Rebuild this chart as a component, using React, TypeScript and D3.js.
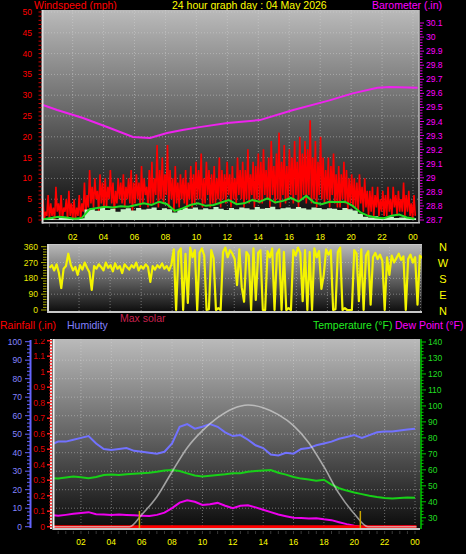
import React from 'react';
import * as d3 from 'd3';

// ---------- axis / label data ----------
const hourTicks = [2, 4, 6, 8, 10, 12, 14, 16, 18, 20, 22, 24];
const hourLabels = ['02', '04', '06', '08', '10', '12', '14', '16', '18', '20', '22', '00'];
const windTicks = [0, 5, 10, 15, 20, 25, 30, 35, 40, 45, 50];
const baroTicks = [28.7, 28.8, 28.9, 29.0, 29.1, 29.2, 29.3, 29.4, 29.5, 29.6, 29.7, 29.8, 29.9, 30.0, 30.1];
const dirTicks = [0, 90, 180, 270, 360];
const compassLabels = ['N', 'E', 'S', 'W', 'N']; // for 0, 90, 180, 270, 360
const humTicks = [0, 10, 20, 30, 40, 50, 60, 70, 80, 90, 100];
const rainTicks = [0, 0.1, 0.2, 0.3, 0.4, 0.5, 0.6, 0.7, 0.8, 0.9, 1.0, 1.1, 1.2];
const tempTicks = [30, 40, 50, 60, 70, 80, 90, 100, 110, 120, 130, 140];

// ---------- wind (10-minute slots: peak then low) ----------
const gustPeaks = [
  5, 2, 6, 4, 3, 8,
  4, 6, 3, 5, 7, 4,
  5, 3, 6, 4, 9, 6,
  12, 8, 10, 7, 11, 9,
  10, 8, 12, 9, 7, 10,
  9, 11, 8, 10, 12, 9,
  11, 9, 13, 10, 8, 12,
  14, 10, 18, 12, 15, 11,
  18, 12, 10, 13, 9, 11,
  10, 12, 9, 13, 11, 14,
  12, 16, 10, 14, 12, 11,
  13, 10, 15, 12, 11, 14,
  11, 13, 10, 15, 12, 14,
  12, 17, 11, 14, 13, 16,
  14, 17, 12, 15, 19, 13,
  16, 21, 14, 18, 13, 17,
  15, 19, 14, 20, 16, 19,
  17, 24, 15, 19, 14, 20,
  15, 12, 15, 13, 16, 11,
  13, 11, 14, 12, 10, 11,
  10, 9, 11, 8, 10, 7,
  7, 8, 6, 8, 5, 7,
  6, 8, 5, 8, 6, 7,
  5, 9, 6, 7, 4, 6,
];
const gustLows = [
  0, 1, 0, 1, 0, 2,
  1, 0, 2, 0, 1, 0,
  0, 1, 0, 2, 1, 3,
  4, 3, 5, 2, 4, 3,
  3, 5, 4, 2, 4, 5,
  4, 3, 5, 4, 2, 4,
  5, 3, 4, 6, 3, 4,
  4, 6, 3, 5, 4, 6,
  3, 5, 2, 4, 3, 5,
  4, 2, 5, 3, 4, 5,
  5, 3, 4, 6, 3, 4,
  4, 5, 3, 5, 4, 6,
  3, 5, 4, 6, 5, 3,
  5, 4, 6, 3, 5, 4,
  4, 6, 5, 3, 6, 4,
  5, 3, 6, 4, 5, 6,
  4, 6, 3, 5, 6, 4,
  6, 4, 5, 3, 6, 5,
  4, 5, 3, 6, 4, 3,
  3, 5, 4, 2, 4, 3,
  3, 2, 4, 2, 3, 1,
  2, 1, 3, 1, 2, 1,
  1, 2, 1, 3, 1, 2,
  2, 1, 2, 1, 0, 1,
];
// 20-minute wind speed
const windSpeed = [
  0.3, 0.5, 0.2, 0.8, 0.5, 0.3, 0.2, 0.4,
  2.5, 2.8, 2.2, 2.9, 2.4, 2.7, 2.0, 2.6, 2.8, 2.3, 2.9, 2.5, 2.7, 3.0, 2.4, 2.8,
  2.6, 1.8, 2.4, 2.9, 2.7, 3.0, 2.5, 2.8, 2.6, 3.1, 2.7, 2.4, 2.9, 2.6, 3.0, 2.8,
  2.5, 3.1, 2.7, 2.9, 3.2, 2.6, 2.8, 3.0, 2.7, 3.1, 2.8, 2.5, 3.0, 2.9, 2.6, 2.8,
  2.7, 2.4, 2.9, 2.6, 2.3, 1.5,
  0.8, 0.6, 0.9, 0.5, 0.7, 0.8, 0.5, 0.6, 0.7, 0.4,
];
// 30-minute average wind
const windAvg = [
  0.2, 0.5, 0.8, 0.6, 0.3, 0.5, 2.6, 2.9, 3.2, 3.0, 3.3, 3.2,
  3.6, 4.0, 3.6, 4.4, 3.8, 2.2, 2.8, 3.6, 4.0, 3.4, 3.6, 4.2,
  4.8, 3.8, 4.0, 4.8, 4.4, 5.2, 4.2, 4.6, 5.3, 4.4, 5.8, 4.2,
  3.8, 4.4, 4.3, 4.4, 3.4, 1.8, 1.0, 0.6, 0.4, 1.0, 1.3, 0.6, 0.3,
];
// barometer
const baroHours = [0.08, 1.0, 2.67, 4.4, 5.9, 7.0, 8.1, 9.1, 10.2, 12.0, 14.1, 16.2, 18.6, 20.1, 21.7, 22.5, 24.3];
const baroValues = [29.517, 29.482, 29.425, 29.354, 29.29, 29.283, 29.318, 29.34, 29.36, 29.39, 29.41, 29.48, 29.55, 29.6, 29.64, 29.645, 29.64];

// ---------- wind direction (9-minute samples) ----------
const windDir = [
  240, 255, 225, 260, 210, 125, 235, 250, 320, 260, 225, 245, 200, 255, 230, 270, 240, 215, 114, 250,
  235, 260, 245, 225, 270, 240, 255, 220, 265, 235, 250, 210, 260, 245, 230, 255, 240, 270, 225, 250,
  235, 260, 245, 160, 250, 230, 255, 240, 265, 235, 250, 225, 260, 345, 0, 330, 350, 0, 320, 40,
  355, 300, 340, 0, 325, 350, 310, 0, 5, 340, 295, 0, 10, 0, 330, 355, 300, 340, 320, 290,
  142, 345, 130, 47, 330, 310, 0, 350, 57, 325, 340, 0, 0, 335, 300, 350, 0, 320, 345, 0,
  330, 0, 10, 0, 340, 310, 355, 325, 50, 340, 0, 330, 0, 350, 300, 335, 120, 200, 345, 315,
  340, 0, 5, 330, 355, 0, 10, 0, 0, 0, 340, 320, 50, 345, 0, 310, 335, 30, 300, 325,
  290, 315, 280, 0, 300, 200, 310, 270, 295, 320, 285, 305, 0, 290, 315, 270, 300, 30, 310, 295,
];

// ---------- bottom panel (30-minute samples starting 00:12) ----------
const humidity = [
  45, 46, 46, 47, 48, 49, 45, 42, 41.5, 42, 42.5, 41, 40.5, 40, 39.5, 40.5, 45,
  54, 55.5, 53, 54, 55.5, 54, 51, 49, 49.5, 47, 44, 42.5, 39, 38.5, 40, 39.5,
  42, 42.5, 44, 45, 46, 47.5, 48.5, 49.5, 48, 49.5, 51, 51.5, 51.5, 52, 52.5, 53,
];
const temperature = [
  54.7, 54.5, 55.2, 55.8, 55.3, 54.8, 55.5, 56.8, 57, 56.8, 57.2, 57.5, 57.8, 58.2, 58.8, 59.6, 59.9,
  59.2, 57.8, 56.5, 55.8, 56.3, 56.8, 57.2, 57.8, 57.8, 58.8, 59.2, 59.5, 59.9, 58.2, 57, 55.5,
  54.5, 54, 53.2, 53.8, 50.8, 48.5, 47, 45.8, 44.8, 43.8, 43, 42.4, 42, 42.3, 42.6, 42.5,
];
const dewPoint = [
  31.5, 31.2, 31.8, 32.5, 33, 33.5, 32.2, 32, 31.8, 32, 31.7, 31.5, 31.3, 31.1, 31.8, 33.2, 36,
  39.5, 41, 40, 38, 38.5, 39.3, 37.5, 36, 37.5, 37.8, 36.5, 35, 33.5, 32, 31, 30,
  29.8, 29.5, 29.7, 29, 28.5, 27.2, 26, 25, 24.4, 24.2, 24.2, 24.3, 24.3, 24.4, 24.5, 24.4,
];
const rainfall = [0, 0, 0, 0, 0, 0, 0, 0, 0, 0, 0, 0, 0, 0, 0, 0, 0, 0, 0, 0, 0, 0, 0, 0, 0];
const solarHours = [0.2, 5.2, 6, 7, 8, 9, 10, 11, 12, 13, 14, 15, 16, 17, 18, 19, 20, 20.9, 24.1];
const solarValues = [0, 0, 91, 227, 416, 598, 727, 825, 893, 921, 901, 848, 765, 636, 454, 250, 98, 0, 0];
const sunEvents = [5.85, 20.4];

const FONT = 'Liberation Sans, Arial, sans-serif';

export default function App() {
  // scales
  const xTop = d3.scaleLinear().domain([0, 24]).range([41.7, 413]);
  const yWind = d3.scaleLinear().domain([0, 50]).range([220, 12]);
  const yBaro = d3.scaleLinear().domain([28.7, 30.1]).range([220, 23]);
  const xMid = d3.scaleLinear().domain([0, 24]).range([48, 420.5]);
  const yDir = d3.scaleLinear().domain([0, 360]).range([310, 246.7]);
  const xBot = d3.scaleLinear().domain([0, 24]).range([50.6, 415]);
  const yHum = d3.scaleLinear().domain([0, 100]).range([526.7, 341.7]);
  const yRain = d3.scaleLinear().domain([0, 1.2]).range([526.7, 340.7]);
  const yTemp = d3.scaleLinear().domain([24.4, 140]).range([526.7, 342]);
  const ySolar = d3.scaleLinear().domain([0, 1400]).range([526.7, 341.7]);

  // wind gust path
  const gStep = 24.15 / gustPeaks.length;
  const gustPts: [number, number][] = [];
  gustPeaks.forEach((p, i) => {
    gustPts.push([0.08 + i * gStep, p]);
    gustPts.push([0.08 + i * gStep + gStep / 2, gustLows[i]]);
  });
  const lineTop = d3.line<[number, number]>().x(d => xTop(d[0])).y(d => yWind(d[1]));
  const gustPath = lineTop(gustPts) || '';

  const speedPts: [number, number][] = windSpeed.map((v, i) => [0.1 + i / 3, v]);
  speedPts.push([24.2, windSpeed[windSpeed.length - 1]]);
  const speedArea = d3.area<[number, number]>()
    .x(d => xTop(d[0])).y0(yWind(0)).y1(d => yWind(d[1]))
    .curve(d3.curveStepAfter)(speedPts) || '';

  const avgPath = lineTop(windAvg.map((v, i) => [0.1 + i * 0.5, v] as [number, number])) || '';
  const baroPath = d3.line<number>()
    .x((_, i) => xTop(baroHours[i])).y(d => yBaro(d))(baroValues) || '';

  const dirPath = d3.line<number>()
    .x((_, i) => xMid(0.1 + i * 0.151)).y(d => yDir(d))(windDir) || '';

  const halfHours = humidity.map((_, i) => (i === 0 ? 0.2 : i * 0.5));
  const humPath = d3.line<number>().x((_, i) => xBot(halfHours[i])).y(d => yHum(d))(humidity) || '';
  const tempPath = d3.line<number>().x((_, i) => xBot(halfHours[i])).y(d => yTemp(d))(temperature) || '';
  const dewPath = d3.line<number>().x((_, i) => xBot(halfHours[i])).y(d => Math.min(yTemp(d), 526.7))(dewPoint) || '';
  const rainPath = d3.line<number>().x((_, i) => xBot(0.2 + i * (23.9 / 24))).y(d => yRain(d))(rainfall) || '';
  const solarPath = d3.line<number>().x((_, i) => xBot(solarHours[i])).y(d => ySolar(d))
    .curve(d3.curveMonotoneX)(solarValues) || '';

  const gridStyle = { stroke: '#d8d8d8', strokeOpacity: 0.45, strokeDasharray: '1 2', strokeWidth: 1 };

  const minorWind = d3.range(0, 51, 1);
  const minorBaro = d3.range(0, 71).map(i => 28.7 + i * 0.02);
  const minorDir = d3.range(0, 361, 15);
  const minorHum = d3.range(0, 101, 2);
  const minorRain = d3.range(0, 61).map(i => i * 0.02);
  const minorTemp = d3.range(26, 141, 2);
  const halfHourTicks = d3.range(0.5, 24.01, 0.5);

  return (
    <svg width={466} height={554} style={{ position: 'absolute', left: 0, top: 0, background: '#000' }}
      fontFamily={FONT}>
      <defs>
        <linearGradient id="bg" x1="0" y1="0" x2="0" y2="1">
          <stop offset="0" stopColor="#bababa" />
          <stop offset="0.5" stopColor="#646464" />
          <stop offset="1" stopColor="#0a0a0a" />
        </linearGradient>
        <clipPath id="cTop"><rect x={42} y={10} width={377} height={212} /></clipPath>
        <clipPath id="cMid"><rect x={48} y={244} width={374} height={68} /></clipPath>
        <clipPath id="cBot"><rect x={53} y={339} width={367} height={190} /></clipPath>
        <clipPath id="cRainLbl"><rect x={0} y={339} width={50} height={200} /></clipPath>
      </defs>
      <rect x={0} y={0} width={466} height={554} fill="#000" />

      {/* ===== titles ===== */}
      <text x={34} y={9} fontSize={10.5} fill="#ff0000">Windspeed (mph)</text>
      <text x={172} y={9} fontSize={10.5} fill="#ffff00">24 hour graph day : 04 May 2026</text>
      <text x={372} y={9} fontSize={10.5} fill="#ff00ff">Barometer (.in)</text>

      {/* ===== TOP PANEL ===== */}
      <rect x={42} y={10} width={377} height={212} fill="url(#bg)" />
      {hourTicks.map(h => (
        <line key={'tv' + h} x1={xTop(h)} x2={xTop(h)} y1={10} y2={222} style={gridStyle} />
      ))}
      {windTicks.slice(1).map(v => (
        <line key={'th' + v} x1={42} x2={419} y1={yWind(v)} y2={yWind(v)} style={gridStyle} />
      ))}
      <g clipPath="url(#cTop)">
        <path d={gustPath} fill="none" stroke="#ff0000" strokeWidth={1.6} />
        <path d={speedArea} fill="#c6f0c6" />
        <path d={avgPath} fill="none" stroke="#22dd22" strokeWidth={2} />
        <path d={baroPath} fill="none" stroke="#ee22ee" strokeWidth={2} />
      </g>
      <line x1={42.5} x2={42.5} y1={10} y2={223.5} stroke="#e0e0e0" strokeWidth={2} />
      <line x1={42} x2={420} y1={222.8} y2={222.8} stroke="#d0d0d0" strokeWidth={1.5} />
      <line x1={419} x2={419} y1={10} y2={223} stroke="#bdbdbd" strokeWidth={1.5} />
      {halfHourTicks.map(h => (
        <line key={'tt' + h} x1={xTop(h)} x2={xTop(h)} y1={224} y2={227} stroke="#3a3a3a" />
      ))}
      {/* left wind axis */}
      {minorWind.map(v => (
        <line key={'wm' + v} x1={38.5} x2={41.5} y1={yWind(v)} y2={yWind(v)} stroke="#d00000" strokeWidth={1} />
      ))}
      {windTicks.map(v => (
        <text key={'wl' + v} x={32} y={yWind(v) + 3} fontSize={8.5} fill="#ff0000" textAnchor="end">{v}</text>
      ))}
      {/* right baro axis */}
      {minorBaro.map((v, i) => (
        <line key={'bm' + i} x1={420} x2={i % 5 === 0 ? 424 : 422.5} y1={yBaro(v)} y2={yBaro(v)} stroke="#dd00dd" strokeWidth={1} />
      ))}
      {baroTicks.map(v => (
        <text key={'bl' + v} x={426} y={yBaro(v) + 3} fontSize={8.5} fill="#ff00ff">{String(Math.round(v * 10) / 10)}</text>
      ))}
      {hourTicks.map((h, i) => (
        <text key={'xl' + h} x={xTop(h)} y={239.5} fontSize={8.5} fill="#ffff00" textAnchor="middle">{hourLabels[i]}</text>
      ))}

      {/* ===== MIDDLE PANEL ===== */}
      <rect x={47} y={244} width={375} height={69} fill="url(#bg)" />
      {hourTicks.map(h => (
        <line key={'mv' + h} x1={xMid(h)} x2={xMid(h)} y1={244} y2={312} style={gridStyle} />
      ))}
      {dirTicks.slice(1, 4).map(v => (
        <line key={'mh' + v} x1={48} x2={422} y1={yDir(v)} y2={yDir(v)} style={gridStyle} />
      ))}
      <g clipPath="url(#cMid)">
        <path d={dirPath} fill="none" stroke="#f4f400" strokeWidth={2.2} strokeLinejoin="round" />
      </g>
      <line x1={47} x2={422} y1={244.5} y2={244.5} stroke="#c8c8c8" strokeWidth={1} />
      <line x1={48} x2={48} y1={244} y2={313} stroke="#d8d8d8" strokeWidth={2} />
      <line x1={47} x2={422} y1={312} y2={312} stroke="#c8c8c8" strokeWidth={2} />
      {minorDir.map(v => (
        <line key={'dm' + v} x1={v % 90 === 0 ? 41 : 43} x2={46.5} y1={yDir(v)} y2={yDir(v)} stroke="#a8a800" strokeWidth={1} />
      ))}
      {dirTicks.map(v => (
        <text key={'dl' + v} x={38} y={yDir(v) + 3} fontSize={8.5} fill="#e8e800" textAnchor="end">{v}</text>
      ))}
      {dirTicks.map((v, i) => (
        <text key={'cl' + v} x={443} y={yDir(v) + 4.5} fontSize={11} fill="#ffff00" textAnchor="middle">{compassLabels[i]}</text>
      ))}

      {/* ===== bottom titles ===== */}
      <text x={0} y={329} fontSize={10.5} fill="#ff0000">Rainfall (.in)</text>
      <text x={67} y={329} fontSize={10.5} fill="#8080ff">Humidity</text>
      <text x={120} y={322} fontSize={10.5} fill="#c8204e">Max solar</text>
      <text x={313} y={329} fontSize={10.5} fill="#22ee22">Temperature (°F)</text>
      <text x={395} y={329} fontSize={10.5} fill="#ff00ff">Dew Point (°F)</text>

      {/* ===== BOTTOM PANEL ===== */}
      <rect x={53} y={339} width={367} height={191} fill="url(#bg)" />
      {hourTicks.map(h => (
        <line key={'bv' + h} x1={xBot(h)} x2={xBot(h)} y1={339} y2={528} style={gridStyle} />
      ))}
      {humTicks.slice(1, 10).map(v => (
        <line key={'bh' + v} x1={53} x2={420} y1={yHum(v)} y2={yHum(v)} style={gridStyle} />
      ))}
      <g clipPath="url(#cBot)">
        <path d={humPath} fill="none" stroke="#7272ff" strokeWidth={2} />
        <path d={tempPath} fill="none" stroke="#18d018" strokeWidth={2} />
        <path d={dewPath} fill="none" stroke="#ee00ee" strokeWidth={2} />
        <path d={rainPath} fill="none" stroke="#ff0000" strokeWidth={3} />
        <path d={solarPath} fill="none" stroke="#dcdcdc" strokeOpacity={0.65} strokeWidth={1.6} />
        {sunEvents.map(h => (
          <line key={'se' + h} x1={xBot(h)} x2={xBot(h)} y1={511} y2={530} stroke="#c8a400" strokeWidth={1.5} />
        ))}
      </g>
      <line x1={53.5} x2={53.5} y1={339} y2={530} stroke="#f0f0f0" strokeWidth={2} />
      <line x1={53} x2={420} y1={529} y2={529} stroke="#c8c8c8" strokeWidth={2} />
      {halfHourTicks.map(h => (
        <line key={'bt' + h} x1={xBot(h)} x2={xBot(h)} y1={531} y2={534} stroke="#3a3a3a" />
      ))}
      {hourTicks.map((h, i) => (
        <text key={'bx' + h} x={xBot(h)} y={544.5} fontSize={8.5} fill="#ffff00" textAnchor="middle">{hourLabels[i]}</text>
      ))}
      {/* humidity axis */}
      <line x1={30.5} x2={30.5} y1={340} y2={528} stroke="#6464ff" strokeWidth={2} />
      {minorHum.map(v => (
        <line key={'hm' + v} x1={v % 10 === 0 ? 25 : 27} x2={30} y1={yHum(v)} y2={yHum(v)} stroke="#6464ff" strokeWidth={1} />
      ))}
      {humTicks.map(v => (
        <text key={'hl' + v} x={22} y={yHum(v) + 3} fontSize={8.5} fill="#8484ff" textAnchor="end">{v}</text>
      ))}
      {/* rain axis */}
      <line x1={51} x2={51} y1={339} y2={529} stroke="#f0f0f0" strokeWidth={2} />
      {minorRain.map((v, i) => (
        <line key={'rm' + i} x1={i % 5 === 0 ? 47 : 49.5} x2={52} y1={yRain(v)} y2={yRain(v)} stroke="#ff2020" strokeWidth={1.5} />
      ))}
      <g clipPath="url(#cRainLbl)">
        {rainTicks.map(v => (
          <text key={'rl' + v} x={45} y={yRain(v) + 3} fontSize={8.5} fill="#e00000" textAnchor="end">{String(Math.round(v * 10) / 10)}</text>
        ))}
      </g>
      {/* temperature axis */}
      <line x1={421} x2={421} y1={339} y2={529} stroke="#00c800" strokeWidth={1.5} />
      {minorTemp.map(v => (
        <line key={'tm' + v} x1={421} x2={v % 10 === 0 ? 426 : 423.5} y1={yTemp(v)} y2={yTemp(v)} stroke="#00c800" strokeWidth={1} />
      ))}
      {tempTicks.map(v => (
        <text key={'tl' + v} x={428} y={yTemp(v) + 3} fontSize={8.5} fill="#22dd22">{v}</text>
      ))}
    </svg>
  );
}
